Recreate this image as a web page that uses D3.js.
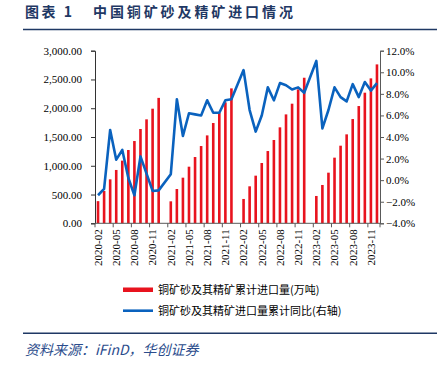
<!DOCTYPE html>
<html lang="zh">
<head>
  <meta charset="utf-8">
  <title>中国铜矿砂及精矿进口情况</title>
  <script src="https://d3js.org/d3.v7.min.js"></script>
  <style>
    body {
      margin: 0;
      padding: 0;
      background: #fff;
    }
    svg text { font-family: "Liberation Serif", "Times New Roman", serif; }
    svg text.cjk { font-family: "Noto Sans CJK SC", sans-serif; }
  </style>
</head>
<body>
  <svg id="chart" width="446" height="368"></svg>

  <script>
    const width = 446;
    const height = 368;

    // months from 2020-02 to 2023-12; January is reported together with February
    const months = d3.timeMonth.range(new Date(2020, 1, 1), new Date(2024, 0, 1))
      .map(d3.timeFormat("%Y-%m"));

    // cumulative imports, 万吨 (Feb..Dec of each year)
    const imports2020 = [385, 562, 764, 927, 1089, 1274, 1430, 1639, 1807, 1992, 2180];
    const imports2021 = [382, 596, 793, 984, 1152, 1343, 1528, 1743, 1916, 2102, 2345];
    const imports2022 = [423, 643, 828, 1048, 1256, 1448, 1668, 1893, 2079, 2328, 2530];
    const imports2023 = [475, 666, 880, 1141, 1349, 1546, 1812, 2038, 2270, 2519, 2762];

    // cumulative YoY, % (right axis)
    const yoy2020 = [-1.4, -0.8, 4.65, 1.9, 2.8, 0.2, -1.4, 2.2, 0.6, -1.0, -0.95];
    const yoy2021 = [0.55, 7.5, 4.1, 6.2, 6.1, 6.0, 7.4, 6.25, 6.25, 7.4, 7.5];
    const yoy2022 = [10.2, 6.5, 4.5, 6.0, 8.6, 7.4, 9.0, 8.8, 8.4, 8.6, 8.1];
    const yoy2023 = [11.05, 4.8, 6.5, 8.6, 7.7, 7.3, 8.9, 7.7, 9.1, 8.3, 9.0];

    const leftTicks = [0, 500, 1000, 1500, 2000, 2500, 3000];
    const rightTicks = [-4, -2, 0, 2, 4, 6, 8, 10, 12];

    const barName = "铜矿砂及其精矿累计进口量(万吨)";
    const lineName = "铜矿砂及其精矿进口量累计同比(右轴)";

    // join yearly arrays with a null for each January
    const withGaps = arrs => arrs.flatMap((a, i) => i === 0 ? a : [null, ...a]);
    const imports = withGaps([imports2020, imports2021, imports2022, imports2023]);
    const yoy = withGaps([yoy2020, yoy2021, yoy2022, yoy2023]);
    const data = months.map((m, i) => ({ month: m, imp: imports[i], yoy: yoy[i] }));

    const margin = { left: 95, right: 66, top: 50.7, bottom: 144.7 };
    const x0 = margin.left, x1 = width - margin.right;
    const y0 = height - margin.bottom, y1 = margin.top;

    const svg = d3.select("#chart");

    const x = d3.scaleBand().domain(months).range([x0, x1]).padding(0);
    const yL = d3.scaleLinear().domain([0, 3000]).range([y0, y1]);
    const yR = d3.scaleLinear().domain([-4, 12]).range([y0, y1]);

    const navy = "#1F3864";
    const red = "#E8131E";
    const blue = "#0A62BE";
    const axisColor = "#595959";

    // title
    const title = svg.append("text")
      .attr("class", "cjk")
      .attr("x", 25)
      .attr("y", 17)
      .attr("fill", navy)
      .attr("font-size", 14)
      .attr("font-weight", "bold");
    title.append("tspan").attr("letter-spacing", 2.5).text("图表 1");
    title.append("tspan").attr("x", 93).attr("letter-spacing", 2.9).text("中国铜矿砂及精矿进口情况");

    svg.append("line")
      .attr("x1", 23).attr("x2", 437)
      .attr("y1", 29.5).attr("y2", 29.5)
      .attr("stroke", navy).attr("stroke-width", 1.6);

    // bars
    const barW = 2.6;
    svg.append("g")
      .selectAll("rect")
      .data(data.filter(d => d.imp != null))
      .join("rect")
      .attr("x", d => x(d.month) + x.bandwidth() / 2 - barW / 2)
      .attr("y", d => yL(d.imp))
      .attr("width", barW)
      .attr("height", d => y0 - yL(d.imp))
      .attr("fill", red);

    // left axis
    const leftAxis = svg.append("g")
      .attr("transform", `translate(${x0},0)`)
      .call(d3.axisLeft(yL).tickValues(leftTicks).tickFormat(d3.format(",.2f")).tickSize(4).tickPadding(9));
    leftAxis.select(".domain").attr("stroke", "#333");
    leftAxis.selectAll(".tick line").attr("stroke", "#333");

    // right axis
    const rightAxis = svg.append("g")
      .attr("transform", `translate(${x1},0)`)
      .call(d3.axisRight(yR).tickValues(rightTicks).tickFormat(d => d3.format(".1f")(d) + "%").tickSize(4).tickPadding(2));
    rightAxis.select(".domain").attr("stroke", axisColor);
    rightAxis.selectAll(".tick line").attr("stroke", axisColor);

    [leftAxis, rightAxis].forEach(g => {
      g.attr("font-family", "Liberation Serif, serif").attr("font-size", 11);
      g.selectAll(".tick text").attr("fill", "#000");
    });

    // x axis
    const xAxis = svg.append("g").attr("transform", `translate(0,${y0})`);
    xAxis.append("line")
      .attr("x1", x0).attr("x2", x1)
      .attr("stroke", axisColor);
    const tickMonths = months.filter((m, i) => i % 3 === 0);
    xAxis.selectAll("line.tk")
      .data(tickMonths.concat(["end"]))
      .join("line")
      .attr("class", "tk")
      .attr("x1", d => d === "end" ? x1 : x(d))
      .attr("x2", d => d === "end" ? x1 : x(d))
      .attr("y1", 0).attr("y2", 4)
      .attr("stroke", axisColor);
    xAxis.selectAll("text")
      .data(tickMonths)
      .join("text")
      .attr("transform", d => `translate(${x(d) + x.bandwidth() / 2},6) rotate(-90)`)
      .attr("text-anchor", "end")
      .attr("dy", "0.35em")
      .attr("font-size", 11)
      .attr("fill", "#000")
      .text(d => d);

    // yoy line, connecting across the January gaps
    const line = d3.line()
      .x(d => x(d.month) + x.bandwidth() / 2)
      .y(d => yR(d.yoy));
    svg.append("path")
      .datum(data.filter(d => d.yoy != null))
      .attr("d", line)
      .attr("fill", "none")
      .attr("stroke", blue)
      .attr("stroke-width", 2.6)
      .attr("stroke-linejoin", "round");

    // legend
    const legend = svg.append("g");
    legend.append("rect")
      .attr("x", 123).attr("y", 287.5)
      .attr("width", 30).attr("height", 4.5)
      .attr("fill", red);
    legend.append("text")
      .attr("class", "cjk")
      .attr("x", 158).attr("y", 290)
      .attr("dy", "0.35em")
      .attr("font-size", 11)
      .attr("fill", "#000")
      .text(barName);
    legend.append("line")
      .attr("x1", 123).attr("x2", 153)
      .attr("y1", 310.7).attr("y2", 310.7)
      .attr("stroke", blue).attr("stroke-width", 2.6);
    legend.append("text")
      .attr("class", "cjk")
      .attr("x", 158).attr("y", 310.7)
      .attr("dy", "0.35em")
      .attr("font-size", 11)
      .attr("fill", "#000")
      .text(lineName);

    // footer
    svg.append("line")
      .attr("x1", 23).attr("x2", 437)
      .attr("y1", 333.3).attr("y2", 333.3)
      .attr("stroke", navy).attr("stroke-width", 1.6);

    svg.append("text")
      .attr("class", "cjk")
      .attr("x", 25).attr("y", 355)
      .attr("font-size", 14)
      .attr("font-style", "italic")
      .attr("fill", "#2B4C8C")
      .text("资料来源：iFinD，华创证券");
  </script>
</body>
</html>
